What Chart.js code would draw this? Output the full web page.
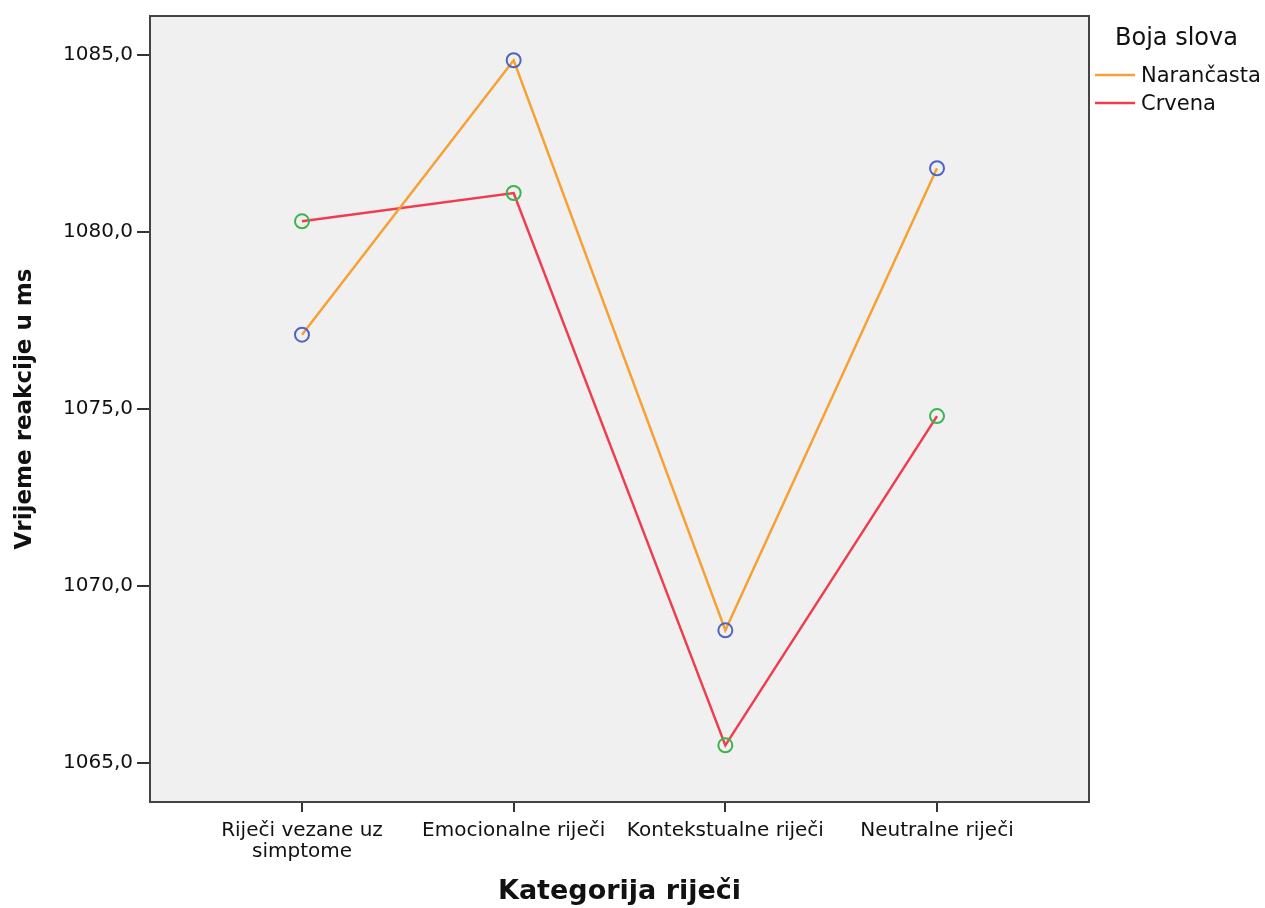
<!DOCTYPE html>
<html>
<head>
<meta charset="utf-8">
<script src="https://cdn.jsdelivr.net/npm/chart.js@4/dist/chart.umd.min.js"></script>
<style>
html,body{margin:0;padding:0;background:#fff;}
canvas{display:block;}
</style>
</head>
<body>
<canvas id="c" width="1265" height="908"></canvas>
<script>
const categories = [["Riječi vezane uz","simptome"], "Emocionalne riječi", "Kontekstualne riječi", "Neutralne riječi"];
const narancasta = [1077.1, 1084.85, 1068.75, 1081.8];
const crvena = [1080.3, 1081.1, 1065.5, 1074.8];
const yTicks = [1065, 1070, 1075, 1080, 1085];
const legendTitle = "Boja slova";
const seriesNames = ["Narančasta", "Crvena"];

const toPts = arr => arr.map((v, i) => ({x: i, y: v}));

const framePlugin = {
  id: 'frame',
  beforeDraw(chart) {
    const {ctx, chartArea: a} = chart;
    ctx.save();
    ctx.fillStyle = '#f0f0f0';
    ctx.fillRect(a.left, a.top, a.right - a.left, a.bottom - a.top);
    ctx.restore();
  },
  afterDraw(chart) {
    const {ctx, chartArea: a} = chart;
    ctx.save();
    ctx.strokeStyle = '#444';
    ctx.lineWidth = 2;
    ctx.strokeRect(a.left, a.top, a.right - a.left, a.bottom - a.top);
    // legend
    const x0 = a.right + 6;
    ctx.fillStyle = '#111';
    ctx.textBaseline = 'middle';
    ctx.textAlign = 'left';
    ctx.font = '24px "DejaVu Sans"';
    ctx.fillText(legendTitle, x0 + 20, 39);
    ctx.font = '21px "DejaVu Sans"';
    chart.data.datasets.forEach((ds, i) => {
      const y = 75 + i * 28;
      ctx.strokeStyle = ds.borderColor;
      ctx.lineWidth = 2.5;
      ctx.beginPath();
      ctx.moveTo(x0, y);
      ctx.lineTo(x0 + 40, y);
      ctx.stroke();
      ctx.fillStyle = '#111';
      ctx.fillText(ds.label, x0 + 46, y + 2);
    });
    ctx.restore();
  }
};

new Chart(document.getElementById('c'), {
  type: 'line',
  data: {
    datasets: [
      {label: seriesNames[0], data: toPts(narancasta), borderColor: '#f7a135', borderWidth: 2.5,
       pointStyle: 'circle', pointRadius: 7, pointBorderWidth: 2, pointBorderColor: '#4f63c0',
       pointBackgroundColor: 'rgba(0,0,0,0)', tension: 0},
      {label: seriesNames[1], data: toPts(crvena), borderColor: '#ef3d4e', borderWidth: 2.5,
       pointStyle: 'circle', pointRadius: 7, pointBorderWidth: 2, pointBorderColor: '#3cb44b',
       pointBackgroundColor: 'rgba(0,0,0,0)', tension: 0}
    ]
  },
  options: {
    responsive: false,
    animation: false,
    events: [],
    layout: {padding: {top: 14, right: 176, left: 0, bottom: 0}},
    plugins: {legend: {display: false}, tooltip: {enabled: false}},
    scales: {
      x: {
        type: 'linear',
        min: -0.718,
        max: 3.718,
        afterBuildTicks: s => { s.ticks = categories.map((c, i) => ({value: i})); },
        afterFit: s => { s.height = 106; },
        border: {display: false},
        grid: {drawOnChartArea: false, drawTicks: true, tickLength: 10, color: '#333', lineWidth: 2},
        ticks: {
          padding: 8,
          color: '#111',
          font: {family: 'DejaVu Sans', size: 20, lineHeight: 1.05},
          maxRotation: 0,
          autoSkip: false,
          callback: v => categories[v]
        },
        title: {display: true, text: 'Kategorija riječi', color: '#111',
          font: {family: 'DejaVu Sans', size: 27, weight: 'bold'}, padding: {top: 0, bottom: 0}}
      },
      y: {
        type: 'linear',
        min: 1063.9,
        max: 1086.1,
        afterBuildTicks: s => { s.ticks = yTicks.map(v => ({value: v})); },
        afterFit: s => { s.width = 150; },
        border: {display: false},
        grid: {drawOnChartArea: false, drawTicks: true, tickLength: 13, color: '#333', lineWidth: 2},
        ticks: {
          padding: 4,
          color: '#111',
          font: {family: 'DejaVu Sans', size: 20},
          callback: v => v.toFixed(1).replace('.', ',')
        },
        title: {display: true, text: 'Vrijeme reakcije u ms', color: '#111',
          font: {family: 'DejaVu Sans', size: 23, weight: 'bold'}, padding: {top: 11, bottom: 0}}
      }
    }
  },
  plugins: [framePlugin]
});
</script>
</body>
</html>
